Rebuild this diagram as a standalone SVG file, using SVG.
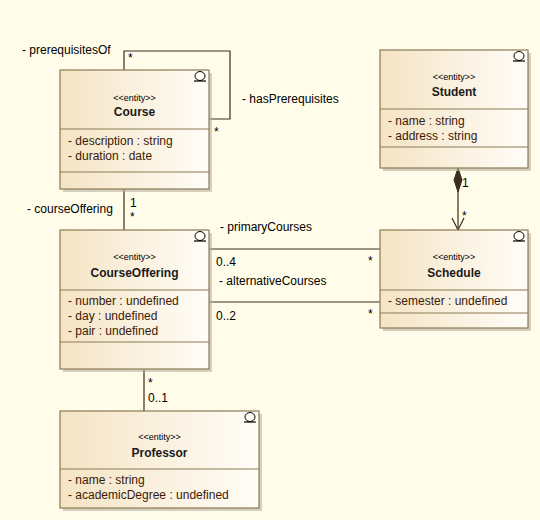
<svg xmlns="http://www.w3.org/2000/svg" width="540" height="520" viewBox="0 0 540 520">
<defs>
<linearGradient id="fill" x1="0" y1="0" x2="1" y2="0">
<stop offset="0" stop-color="#F5E4C4"/>
<stop offset="1" stop-color="#FFFDF8"/>
</linearGradient>
<g id="icon">
<ellipse cx="0" cy="0" rx="5" ry="4.5" fill="none" stroke="#000" stroke-width="1"/>
<line x1="-6" y1="5" x2="6" y2="5" stroke="#000" stroke-width="1.2"/>
</g>
</defs>
<style>
.bg{fill:#FFFDE9}
.shadow{fill:#B8B2A0;opacity:0.6}
.box{fill:url(#fill);stroke:#8C7A55;stroke-width:1.2}
.sep{stroke:#8C7A55;stroke-width:1}
.st{font-family:"Liberation Sans",Arial,sans-serif;font-size:9px;fill:#000;text-anchor:middle}
.nm{font-family:"Liberation Sans",Arial,sans-serif;font-size:12px;font-weight:bold;fill:#1a1a1a;text-anchor:middle}
.at{font-family:"Liberation Sans",Arial,sans-serif;font-size:12px;fill:#3A1A08}
.lb{font-family:"Liberation Sans",Arial,sans-serif;font-size:12px;fill:#000}
.ln{fill:none;stroke:#3A2E1C;stroke-width:1.2}
</style>
<rect class="bg" x="0" y="0" width="540" height="520"/>

<g id="connectors">
<polyline class="ln" points="124,70 124,51 230,51 230,119 209,119"/>
<line class="ln" x1="124" y1="189" x2="124" y2="230"/>
<line class="ln" x1="209" y1="249" x2="380" y2="249"/>
<line class="ln" x1="209" y1="302" x2="380" y2="302"/>
<line class="ln" x1="144" y1="369" x2="144" y2="411"/>
<line class="ln" x1="458" y1="190" x2="458" y2="230"/>
<polygon points="458,168 462,180 458,192 454,180" fill="#3A2E1C" stroke="#3A2E1C" stroke-width="1"/>
<polyline class="ln" points="452,218 458,230 464,218"/>
<text class="lb" x="22" y="54">- prerequisitesOf</text>
<text class="lb" x="128" y="62">*</text>
<text class="lb" x="242" y="103">- hasPrerequisites</text>
<text class="lb" x="214" y="136">*</text>
<text class="lb" x="27" y="213">- courseOffering</text>
<text class="lb" x="130" y="207">1</text>
<text class="lb" x="130" y="221">*</text>
<text class="lb" x="220" y="231">- primaryCourses</text>
<text class="lb" x="216" y="266">0..4</text>
<text class="lb" x="368" y="265">*</text>
<text class="lb" x="219" y="285">- alternativeCourses</text>
<text class="lb" x="216" y="320">0..2</text>
<text class="lb" x="368" y="318">*</text>
<text class="lb" x="462" y="187">1</text>
<text class="lb" x="462" y="220">*</text>
<text class="lb" x="148" y="387">*</text>
<text class="lb" x="148" y="402">0..1</text>
</g>

<g id="course">
<rect class="shadow" x="63" y="73" width="149" height="119"/>
<rect class="box" x="60" y="70" width="149" height="119"/>
<use href="#icon" x="200" y="76"/>
<line class="sep" x1="60" y1="129" x2="209" y2="129"/>
<line class="sep" x1="60" y1="172" x2="209" y2="172"/>
<text class="st" x="134.5" y="101">&lt;&lt;entity&gt;&gt;</text>
<text class="nm" x="134.5" y="116">Course</text>
<text class="at" x="68" y="145">- description : string</text>
<text class="at" x="68" y="160">- duration : date</text>
</g>

<g id="student">
<rect class="shadow" x="383" y="53" width="148" height="118"/>
<rect class="box" x="380" y="50" width="148" height="118"/>
<use href="#icon" x="519" y="56"/>
<line class="sep" x1="380" y1="109" x2="528" y2="109"/>
<line class="sep" x1="380" y1="147" x2="528" y2="147"/>
<text class="st" x="454" y="80">&lt;&lt;entity&gt;&gt;</text>
<text class="nm" x="454" y="96">Student</text>
<text class="at" x="388" y="125">- name : string</text>
<text class="at" x="388" y="140">- address : string</text>
</g>

<g id="courseOffering">
<rect class="shadow" x="63" y="233" width="149" height="139"/>
<rect class="box" x="60" y="230" width="149" height="139"/>
<use href="#icon" x="200" y="236"/>
<line class="sep" x1="60" y1="290" x2="209" y2="290"/>
<line class="sep" x1="60" y1="342" x2="209" y2="342"/>
<text class="st" x="134.5" y="260">&lt;&lt;entity&gt;&gt;</text>
<text class="nm" x="134.5" y="277">CourseOffering</text>
<text class="at" x="68" y="305">- number : undefined</text>
<text class="at" x="68" y="320">- day : undefined</text>
<text class="at" x="68" y="335">- pair : undefined</text>
</g>

<g id="schedule">
<rect class="shadow" x="383" y="233" width="148" height="98"/>
<rect class="box" x="380" y="230" width="148" height="98"/>
<use href="#icon" x="519" y="236"/>
<line class="sep" x1="380" y1="290" x2="528" y2="290"/>
<line class="sep" x1="380" y1="313" x2="528" y2="313"/>
<text class="st" x="454" y="260">&lt;&lt;entity&gt;&gt;</text>
<text class="nm" x="454" y="277">Schedule</text>
<text class="at" x="388" y="305">- semester : undefined</text>
</g>

<g id="professor">
<rect class="shadow" x="63" y="414" width="199" height="97"/>
<rect class="box" x="60" y="411" width="199" height="97"/>
<use href="#icon" x="250" y="417"/>
<line class="sep" x1="60" y1="469" x2="259" y2="469"/>
<text class="st" x="159.5" y="440">&lt;&lt;entity&gt;&gt;</text>
<text class="nm" x="159.5" y="457">Professor</text>
<text class="at" x="68" y="484">- name : string</text>
<text class="at" x="68" y="499">- academicDegree : undefined</text>
</g>
</svg>
